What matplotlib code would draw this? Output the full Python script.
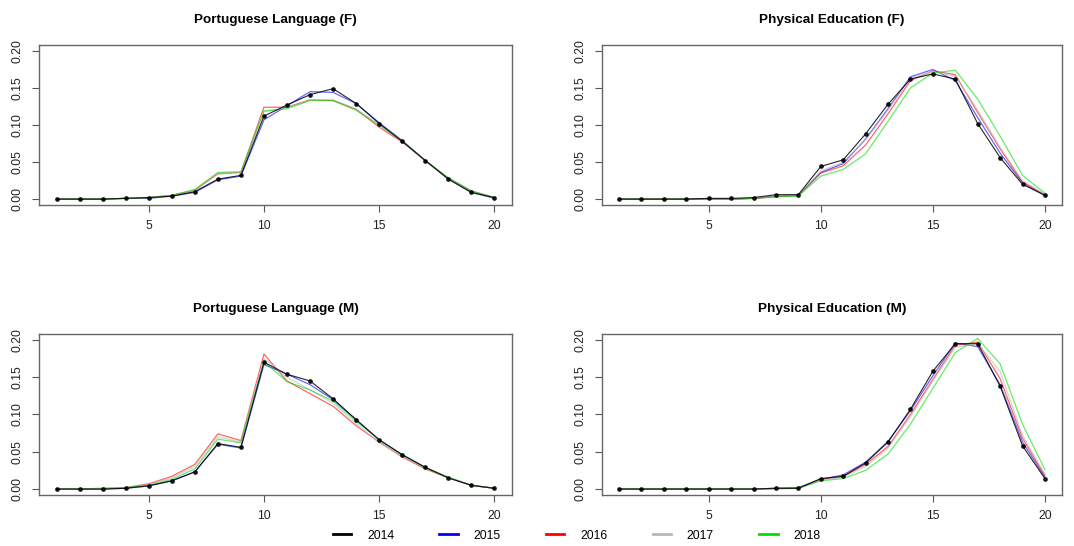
import numpy as np
import matplotlib.pyplot as plt
from matplotlib.lines import Line2D

plt.rcParams['font.family'] = ['Liberation Sans', 'DejaVu Sans']

grades = np.arange(1, 21)
years = ["2014", "2015", "2016", "2017", "2018"]
colors = ["black", "blue", "red", "#b8b8b8", "#00e000"]

titles = ["Portuguese Language (F)", "Physical Education (F)",
          "Portuguese Language (M)", "Physical Education (M)"]

# Portuguese Language (F)
port_f = {
    "2014": [0, 0, 0, 0.001, 0.002, 0.004, 0.010, 0.027, 0.032, 0.112, 0.127, 0.141, 0.149, 0.129, 0.102, 0.078, 0.052, 0.027, 0.009, 0.002],
    "2015": [0, 0, 0, 0.001, 0.001, 0.004, 0.009, 0.026, 0.031, 0.107, 0.126, 0.145, 0.144, 0.129, 0.103, 0.079, 0.052, 0.027, 0.009, 0.001],
    "2016": [0, 0, 0, 0.001, 0.002, 0.005, 0.012, 0.034, 0.036, 0.124, 0.124, 0.134, 0.133, 0.121, 0.097, 0.077, 0.052, 0.028, 0.011, 0.002],
    "2017": [0, 0, 0, 0.001, 0.002, 0.005, 0.012, 0.035, 0.036, 0.118, 0.123, 0.134, 0.134, 0.122, 0.100, 0.078, 0.052, 0.028, 0.010, 0.002],
    "2018": [0, 0, 0, 0.001, 0.002, 0.005, 0.013, 0.036, 0.037, 0.119, 0.122, 0.133, 0.133, 0.120, 0.100, 0.078, 0.052, 0.029, 0.011, 0.002],
}

# Physical Education (F)
pe_f = {
    "2014": [0, 0, 0, 0, 0.001, 0.001, 0.002, 0.006, 0.006, 0.044, 0.053, 0.088, 0.128, 0.162, 0.169, 0.162, 0.102, 0.056, 0.020, 0.005],
    "2015": [0, 0, 0, 0, 0, 0, 0.001, 0.004, 0.005, 0.036, 0.048, 0.081, 0.122, 0.165, 0.175, 0.160, 0.110, 0.062, 0.022, 0.005],
    "2016": [0, 0, 0, 0, 0, 0, 0.001, 0.003, 0.005, 0.035, 0.045, 0.073, 0.115, 0.160, 0.173, 0.168, 0.117, 0.068, 0.023, 0.006],
    "2017": [0, 0, 0, 0, 0, 0, 0.001, 0.004, 0.005, 0.038, 0.050, 0.080, 0.120, 0.163, 0.172, 0.166, 0.120, 0.070, 0.025, 0.006],
    "2018": [0, 0, 0, 0, 0, 0, 0.001, 0.003, 0.004, 0.031, 0.040, 0.061, 0.105, 0.150, 0.170, 0.174, 0.135, 0.085, 0.032, 0.008],
}

# Portuguese Language (M)
port_m = {
    "2014": [0, 0, 0, 0.001, 0.0045, 0.011, 0.023, 0.061, 0.056, 0.170, 0.154, 0.145, 0.121, 0.093, 0.066, 0.046, 0.029, 0.015, 0.005, 0.001],
    "2015": [0, 0, 0, 0.001, 0.004, 0.011, 0.023, 0.060, 0.055, 0.167, 0.154, 0.140, 0.120, 0.093, 0.066, 0.046, 0.029, 0.015, 0.005, 0.001],
    "2016": [0, 0, 0.001, 0.002, 0.007, 0.017, 0.033, 0.074, 0.065, 0.181, 0.145, 0.128, 0.111, 0.085, 0.063, 0.043, 0.027, 0.015, 0.005, 0.001],
    "2017": [0, 0, 0.001, 0.002, 0.006, 0.015, 0.030, 0.070, 0.063, 0.175, 0.150, 0.133, 0.115, 0.088, 0.062, 0.044, 0.028, 0.015, 0.005, 0.001],
    "2018": [0, 0, 0, 0.002, 0.005, 0.013, 0.027, 0.067, 0.062, 0.171, 0.144, 0.133, 0.118, 0.091, 0.066, 0.046, 0.029, 0.016, 0.005, 0.001],
}

# Physical Education (M)
pe_m = {
    "2014": [0, 0, 0, 0, 0, 0, 0, 0.001, 0.001, 0.014, 0.017, 0.035, 0.063, 0.107, 0.158, 0.195, 0.195, 0.138, 0.058, 0.014],
    "2015": [0, 0, 0, 0, 0, 0, 0, 0.001, 0.002, 0.013, 0.019, 0.036, 0.064, 0.105, 0.152, 0.196, 0.191, 0.140, 0.063, 0.016],
    "2016": [0, 0, 0, 0, 0, 0, 0, 0.001, 0.001, 0.013, 0.017, 0.033, 0.057, 0.100, 0.147, 0.193, 0.197, 0.148, 0.068, 0.018],
    "2017": [0, 0, 0, 0, 0, 0, 0, 0.001, 0.001, 0.012, 0.016, 0.030, 0.055, 0.097, 0.145, 0.190, 0.195, 0.158, 0.072, 0.020],
    "2018": [0, 0, 0, 0, 0, 0, 0, 0.000, 0.001, 0.011, 0.014, 0.025, 0.047, 0.087, 0.135, 0.183, 0.202, 0.168, 0.087, 0.026],
}

panels = [port_f, pe_f, port_m, pe_m]

fig = plt.figure(figsize=(10.74, 5.46), dpi=100)

# [left, bottom, width, height]
positions = [
    [0.0363, 0.6245, 0.4404, 0.2931],
    [0.5605, 0.6245, 0.4283, 0.2931],
    [0.0363, 0.0934, 0.4404, 0.2949],
    [0.5605, 0.0934, 0.4283, 0.2949],
]

for pos, title, data in zip(positions, titles, panels):
    ax = fig.add_axes(pos)
    for year, col in zip(years, colors):
        if year == "2014":
            ax.plot(grades, data[year], color=col, lw=0.8, alpha=0.85,
                    marker='o', markersize=2.4, zorder=3)
        else:
            ax.plot(grades, data[year], color=col, lw=0.9, alpha=0.6, zorder=2)
    ax.set_xlim(0.24, 20.76)
    ax.set_ylim(-0.008, 0.208)
    ax.set_xticks([5, 10, 15, 20])
    ax.set_yticks([0, 0.05, 0.10, 0.15, 0.20])
    ax.set_yticklabels(["0.00", "0.05", "0.10", "0.15", "0.20"])
    ax.tick_params(labelsize=8.8, length=5, width=0.8, color='#555555',
                   labelcolor='#222222', pad=6)
    plt.setp(ax.get_yticklabels(), rotation=90, va='center')
    for sp in ax.spines.values():
        sp.set_color('#666666')
        sp.set_linewidth(1.0)
    ax.set_title(title, fontsize=9.7, fontweight='bold', pad=16)

handles = [Line2D([0], [0], color=c, lw=2) for c in colors]
fig.legend(handles, years, loc='lower center', bbox_to_anchor=(0.537, -0.012),
           ncol=5, frameon=False, fontsize=8.8, handlelength=1.5,
           handletextpad=1.3, columnspacing=3.7)

fig.savefig("out.png", dpi=100)
